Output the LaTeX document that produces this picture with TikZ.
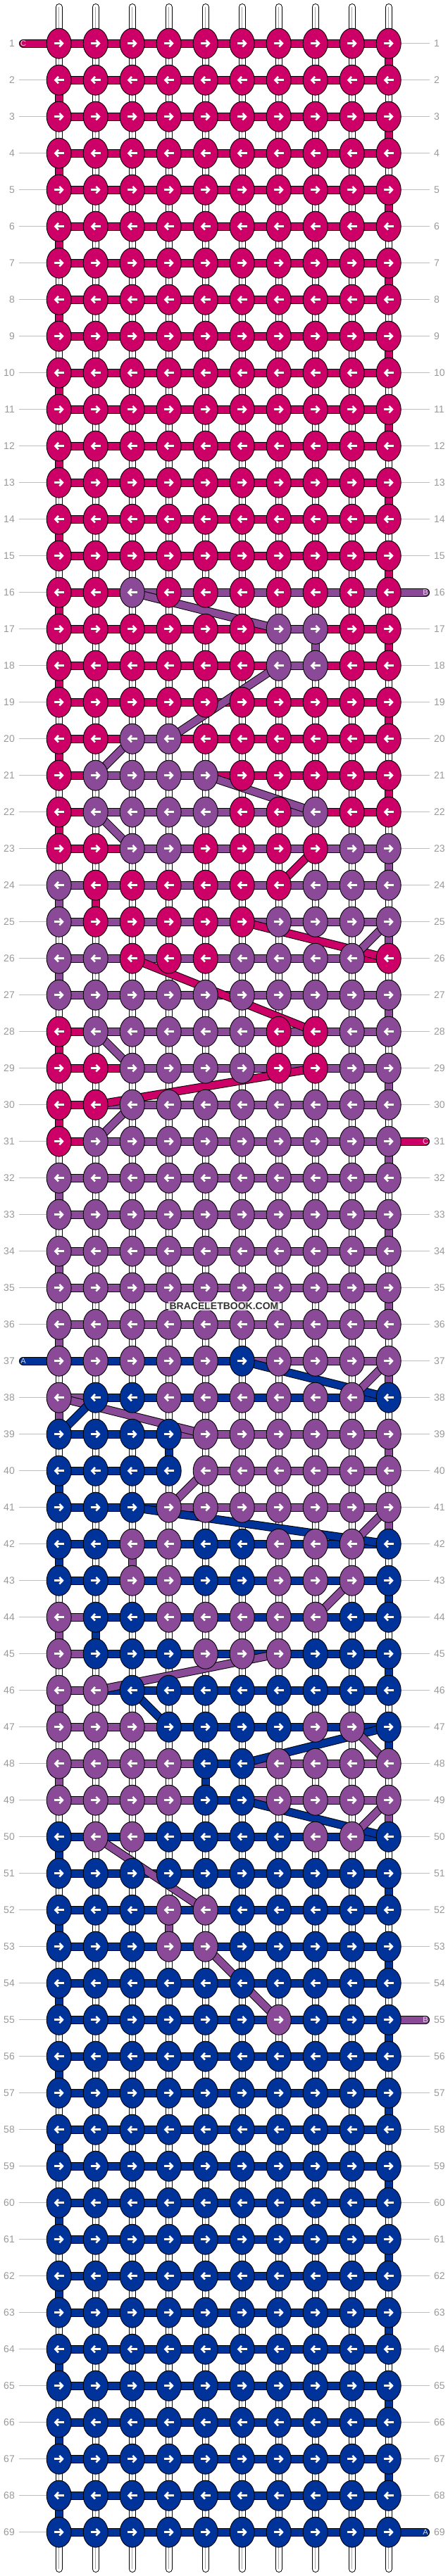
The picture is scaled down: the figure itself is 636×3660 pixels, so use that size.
\documentclass[tikz,border=0pt]{standalone}
\usepackage{fontspec}
\setmainfont{Liberation Sans}
\usepackage{xstring}
\usetikzlibrary{shapes.geometric,arrows.meta}
\definecolor{colA}{HTML}{003399}
\definecolor{colB}{HTML}{8A4A97}
\definecolor{colC}{HTML}{CC0066}
\definecolor{numgray}{HTML}{999999}
\pgfdeclarelayer{strands}
\pgfdeclarelayer{bars}
\pgfdeclarelayer{diags}
\pgfsetlayers{strands,bars,diags,main}
\tikzset{
  knot/.style={ellipse, draw=black, line width=0.9, fill=#1, minimum width=35, minimum height=43, inner sep=0},
  bar/.style={draw=black, line width=1, double=#1, double distance=10},
  strand/.style={draw=black, line width=1, double=white, double distance=8, line cap=round},
  arr/.style={white, line width=2.6, -{Straight Barb[length=4.5,width=9.5]}},
  rownum/.style={text=numgray, font=\fontsize{14}{14}\selectfont, inner sep=0},
  guide/.style={draw=black!25, line width=0.8},
  endtag/.style={font=\fontsize{11}{11}\selectfont, inner sep=0}
}
\newcommand\KnotRow[3]{%
  \foreach \c in {1,...,10}{%
    \StrChar{#2}{\c}[\kc]%
    \node[knot=col\kc] (k-#1-\c) at ({31.7+52*\c},{9.7+52*#1}) {};
    \ifodd#1 \draw[arr] ([xshift=-7]k-#1-\c.center) -- ([xshift=7]k-#1-\c.center);
    \else \draw[arr] ([xshift=7]k-#1-\c.center) -- ([xshift=-7]k-#1-\c.center); \fi
  }%
  \begin{pgfonlayer}{bars}
  \foreach \c [evaluate=\c as \n using int(\c+1)] in {1,...,9}{%
    \StrChar{#3}{\c}[\bc]%
    \IfStrEq{\bc}{-}{}{\draw[bar=col\bc] (k-#1-\c.center) -- (k-#1-\n.center);}
  }%
  \ifnum#1>1
    \pgfmathtruncatemacro\rp{#1-1}%
    \ifodd#1 \StrChar{\PrevKnots}{1}[\tc]\def\tcol{1}\else\StrChar{\PrevKnots}{10}[\tc]\def\tcol{10}\fi
    \draw[bar=col\tc] (k-\rp-\tcol.center) -- (k-#1-\tcol.center);
  \fi
  \end{pgfonlayer}
  \xdef\PrevKnots{#2}%
  \node[rownum, anchor=east] (ll-#1) at (21,{9.7+52*#1}) {#1};
  \node[rownum, anchor=west] (lr-#1) at (616,{9.7+52*#1}) {#1};
  \begin{pgfonlayer}{strands}
  \draw[guide, shorten <=6] (ll-#1.east) -- (k-#1-1.center);
  \draw[guide, shorten >=6] (k-#1-10.center) -- (lr-#1.west);
  \end{pgfonlayer}
}

\begin{document}
\begin{tikzpicture}[x=1pt,y=-1pt]
\useasboundingbox (0,0) rectangle (636,3660);
\begin{pgfonlayer}{strands}
\fill[white] (0,0) rectangle (636,3660);
\foreach \c in {1,...,10}{
  \coordinate (st-\c) at ({31.7+52*\c},10);
  \coordinate (sb-\c) at ({31.7+52*\c},3650);
  \draw[strand] (st-\c) -- (sb-\c);
  \draw[black!35, line width=0.6] (st-\c) -- (sb-\c);
}
\end{pgfonlayer}

\foreach \r in {1,...,15}{\KnotRow{\r}{CCCCCCCCCC}{CCCCCCCCC}}
\KnotRow{16}{CCBCCCCCCC}{CCBBBBBBB}
\KnotRow{17}{CCCCCCBBCC}{CCCCCCBCC}
\KnotRow{18}{CCCCCCBBCC}{CCCCCCBCC}
\KnotRow{19}{CCCCCCCCCC}{CCCCCCCCC}
\KnotRow{20}{CCBBCCCCCC}{CCBCCCCCC}
\KnotRow{21}{CBBBBCCCCC}{CBBBCCCCC}
\KnotRow{22}{CBBBBCCBCC}{CBBBBBBCC}
\KnotRow{23}{CCBBCCCCBB}{CCBBBBBBB}
\KnotRow{24}{BCCCCCCBBB}{BBBBBBBBB}
\KnotRow{25}{BCCCCCBBBB}{BBBBBBBBB}
\KnotRow{26}{BBCCCBBBBC}{BBBBBBBBC}
\KnotRow{27}{BBBBBBBBBB}{BBBBBBBBB}
\KnotRow{28}{CBBBBBCCBB}{CBBBBBBBB}
\KnotRow{29}{CCBBBBCCBB}{CCBBBBBBB}
\KnotRow{30}{CCBBBBBBBB}{CBBBBBBBB}
\KnotRow{31}{CBBBBBBBBB}{CBBBBBBBB}
\foreach \r in {32,...,36}{\KnotRow{\r}{BBBBBBBBBB}{BBBBBBBBB}}
\KnotRow{37}{BBBBBABBBB}{AAAAABBBB}
\KnotRow{38}{BAABBBBBBA}{BAAAAAAAA}
\KnotRow{39}{AAAABBBBBB}{AAABBBBBB}
\KnotRow{40}{AAAABBBBBB}{AAA-BBBBB}
\KnotRow{41}{AAABBBBBBB}{AAABBBBBB}
\KnotRow{42}{AABBAABBBA}{AAAAAAAAA}
\KnotRow{43}{AABBAABBBA}{AAAAAAAAA}
\KnotRow{44}{BAABBBBBAA}{BAAAAAAAA}
\KnotRow{45}{BAAABBBAAA}{BAAAAAAAA}
\KnotRow{46}{BBAAAAAAAA}{BAAAAAAAA}
\KnotRow{47}{BBBAAAABBA}{BBBAAAAAA}
\KnotRow{48}{BBBBAABBBB}{BBBBABBBB}
\KnotRow{49}{BBBBAABBBB}{BBBBABBBB}
\KnotRow{50}{ABBAAAABBA}{AAAAAAAAA}
\KnotRow{51}{AAAAAAAAAA}{AAAAAAAAA}
\KnotRow{52}{AAABBAAAAA}{AAAAAAAAA}
\KnotRow{53}{AAABBAAAAA}{AAAAAAAAA}
\KnotRow{54}{AAAAAAAAAA}{AAAAAAAAA}
\KnotRow{55}{AAAAAABAAA}{AAAAAAAAA}
\foreach \r in {56,...,69}{\KnotRow{\r}{AAAAAAAAAA}{AAAAAAAAA}}

\begin{pgfonlayer}{diags}
\foreach \cl/\ra/\ca/\rb/\cb in {B/16/3/17/7, B/18/7/20/4, B/20/3/21/2, B/21/5/22/8, B/22/2/23/3,
  C/23/8/24/7, C/25/6/26/10, B/25/10/26/9, C/26/3/28/8, B/28/2/29/3, C/29/8/30/2, B/30/3/31/2,
  A/37/6/38/10, B/37/10/38/9, B/38/1/39/5, A/38/2/39/1, B/40/5/41/4, A/41/3/42/10, B/41/10/42/9,
  B/43/9/44/8, B/45/7/46/2, A/46/3/47/4, A/47/10/48/6, B/47/9/48/10, A/49/6/50/10, B/49/10/50/9,
  B/50/2/52/5, B/53/5/55/7, B/17/8/18/8, C/24/2/25/2, A/39/4/40/4, B/42/3/43/3, A/44/2/45/2,
  A/48/5/49/5, B/52/4/53/4}
  \draw[bar=col\cl] (k-\ra-\ca.center) -- (k-\rb-\cb.center);
\end{pgfonlayer}

\coordinate (endC1) at (33,61.7);
\coordinate (endA37) at (33,1933.7);
\coordinate (endB16) at (604,841.7);
\coordinate (endC31) at (604,1621.7);
\coordinate (endB55) at (604,2869.7);
\coordinate (endA69) at (604,3597.7);
\begin{pgfonlayer}{bars}
\draw[bar=colC, line cap=round] (k-1-1.center) -- (endC1);
\draw[bar=colA, line cap=round] (k-37-1.center) -- (endA37);
\draw[bar=colB, line cap=round] (k-16-10.center) -- (endB16);
\draw[bar=colC, line cap=round] (k-31-10.center) -- (endC31);
\draw[bar=colB, line cap=round] (k-55-10.center) -- (endB55);
\draw[bar=colA, line cap=round] (k-69-10.center) -- (endA69);
\end{pgfonlayer}
\node[endtag, text=white!80!colC] (tagC1) at (endC1) {C};
\node[endtag, text=white!80!colA] (tagA37) at (endA37) {A};
\node[endtag, text=white!80!colB] (tagB16) at (endB16) {B};
\node[endtag, text=white!80!colC] (tagC31) at (endC31) {C};
\node[endtag, text=white!80!colB] (tagB55) at (endB55) {B};
\node[endtag, text=white!80!colA] (tagA69) at (endA69) {A};

\node[font=\bfseries\fontsize{14}{14}\selectfont, text=black!80, fill=white, fill opacity=0.75, text opacity=1, inner sep=1.5] (mark) at (318,1855.7) {BRACELETBOOK.COM};
\end{tikzpicture}
\end{document}
